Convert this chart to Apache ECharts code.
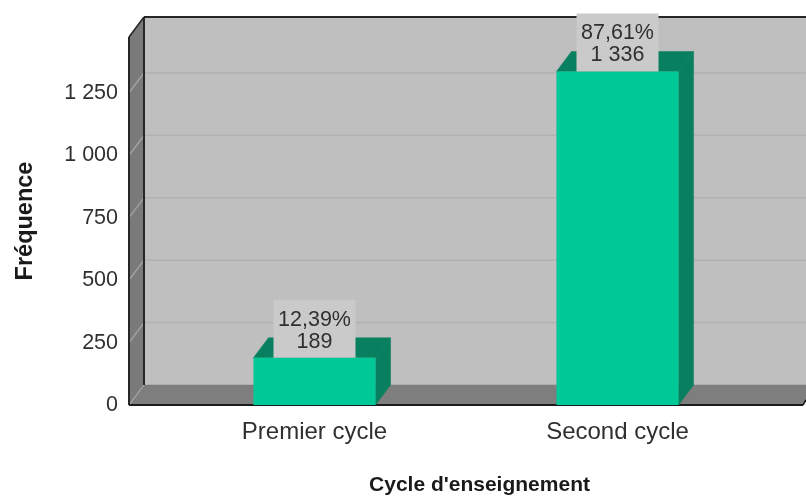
<!DOCTYPE html>
<html><head><meta charset="utf-8">
<style>html,body{margin:0;padding:0;background:#fff}#c{width:806px;height:496px}</style>
<script src="https://cdn.jsdelivr.net/npm/echarts@6/dist/echarts.min.js"></script>
</head><body><div id="c"></div>
<script>
const categories = ['Premier cycle', 'Second cycle'];
const counts = [189, 1336];
const countLabels = ['189', '1 336'];
const percents = ['12,39%', '87,61%'];
const yTicks = [0, 250, 500, 750, 1000, 1250];
const yMax = 1474;

const DX = 15, DY = 20, SIDE = 34;
const FONT = '"Liberation Sans", Arial, sans-serif';
const chart = echarts.init(document.getElementById('c'), null, {renderer: 'canvas'});

function poly(points, fill, z2) {
  return {type: 'polygon', shape: {points}, style: {fill, stroke: fill, lineWidth: 0.5}, z2: z2 || 0, silent: true};
}
function seg(a, b, stroke, w, z2) {
  return {type: 'line', shape: {x1: a[0], y1: a[1], x2: b[0], y2: b[1]}, style: {stroke, lineWidth: w}, z2: z2 || 0, silent: true};
}
function renderWalls(params, api) {
  if (params.dataIndex !== 0) return;
  const cs = params.coordSys;
  const xl = cs.x - SIDE, xr = cs.x + cs.width + SIDE;
  const y0 = api.coord([0, 0])[1], yt = api.coord([0, yMax])[1];
  const kids = [
    poly([[xl + DX, yt - DY], [806, yt - DY], [806, y0 - DY], [xl + DX, y0 - DY]], '#bfbfbf'),
    poly([[xl, yt], [xl + DX, yt - DY], [xl + DX, y0 - DY], [xl, y0]], '#7a7a7a'),
    poly([[xl, y0], [xl + DX, y0 - DY], [806, y0 - DY], [806, y0 - DY + 15], [xr, y0]], '#7e7e7e')
  ];
  yTicks.forEach(function (t) {
    const y = api.coord([0, t])[1];
    if (t > 0) kids.push(seg([xl + DX, y - DY], [806, y - DY], '#b1b1b1', 1.5, 1));
    kids.push(seg([xl, y], [xl + DX, y - DY], '#a8a8a8', 1.2, 1));
  });
  kids.push(seg([xl + DX, yt - DY], [806, yt - DY], '#262626', 2, 2));
  kids.push(seg([xl + DX, yt - DY], [xl + DX, y0 - DY], '#262626', 2, 2));
  kids.push(seg([xl, yt], [xl, y0], '#262626', 2, 2));
  kids.push(seg([xl, yt], [xl + DX, yt - DY], '#262626', 1.5, 2));
  kids.push(seg([xl, y0], [xr, y0], '#1c1c1c', 2, 2));
  kids.push(seg([xr, y0], [806, y0 - DY + 15], '#1c1c1c', 1.5, 2));
  return {type: 'group', children: kids};
}
function renderDepth(params, api) {
  const c = api.coord([api.value(0), api.value(1)]);
  const base = api.coord([api.value(0), 0]);
  const w = api.size([1, 0])[0] * 0.403;
  const x0 = c[0] - w / 2, x1 = c[0] + w / 2, y = c[1], yb = base[1];
  return {type: 'group', children: [
    poly([[x0, y], [x0 + DX, y - DY], [x1 + DX, y - DY], [x1, y]], '#08805f'),
    poly([[x1, y], [x1 + DX, y - DY], [x1 + DX, yb - DY], [x1, yb]], '#08805f')
  ]};
}

chart.setOption({
  animation: false,
  backgroundColor: '#ffffff',
  grid: {left: 163, top: 37, width: 606, height: 368, outerBoundsMode: 'none'},
  xAxis: {
    type: 'category', data: categories,
    name: "Cycle d'enseignement", nameLocation: 'middle', nameGap: 70,
    nameTextStyle: {fontFamily: FONT, fontSize: 21, fontWeight: 'bold', color: '#1a1a1a', padding: [0, 0, 0, 27]},
    axisLine: {show: false}, axisTick: {show: false},
    axisLabel: {fontFamily: FONT, fontSize: 24, color: '#303030', margin: 15}
  },
  yAxis: {
    type: 'value', min: 0, max: yMax, interval: 250,
    name: 'Fréquence', nameLocation: 'middle', nameGap: 125, nameRotate: 90,
    nameTextStyle: {fontFamily: FONT, fontSize: 23.5, fontWeight: 'bold', color: '#1a1a1a'},
    axisLine: {show: false}, axisTick: {show: false}, splitLine: {show: false},
    axisLabel: {
      fontFamily: FONT, fontSize: 21.5, color: '#303030', margin: 45,
      showMaxLabel: false,
      formatter: v => v >= 1000 ? String(v).replace(/(\d)(\d{3})$/, '$1 $2') : String(v)
    }
  },
  series: [
    {type: 'custom', coordinateSystem: 'cartesian2d', renderItem: renderWalls, data: [[0, 0]], z: 1, clip: false, silent: true},
    {type: 'custom', coordinateSystem: 'cartesian2d', renderItem: renderDepth,
      data: counts.map((v, i) => [i, v]), z: 2, clip: false, silent: true},
    {type: 'bar', data: counts, barWidth: '40.3%', z: 3,
      itemStyle: {color: '#00c896'},
      label: {
        show: true, position: 'top', distance: 0, z: 10,
        fontFamily: FONT, fontSize: 21.5, lineHeight: 22, color: '#303030',
        backgroundColor: '#cacaca', padding: [9, 5, 5, 5], width: 72, align: 'center',
        formatter: p => percents[p.dataIndex] + '\n' + countLabels[p.dataIndex]
      }
    }
  ]
});
</script></body></html>
